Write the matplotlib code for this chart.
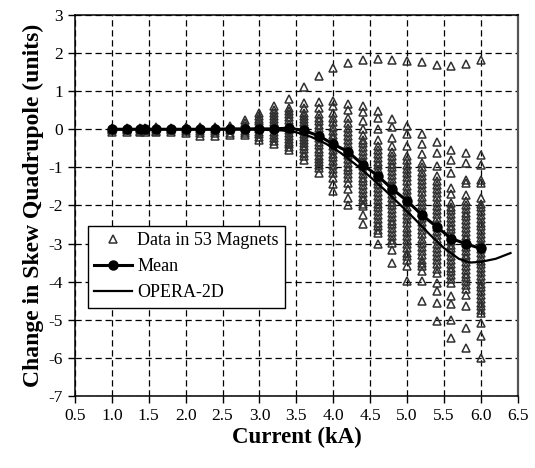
import matplotlib
matplotlib.use('Agg')
import matplotlib.pyplot as plt
from matplotlib.ticker import FormatStrFormatter, MultipleLocator

plt.rcParams['font.family'] = ['Liberation Serif', 'DejaVu Serif']
plt.rcParams['axes.unicode_minus'] = False

# currents (kA) of the measurements
currents = [1.0, 1.2, 1.38, 1.45, 1.6, 1.8, 2.0, 2.2, 2.4, 2.6, 2.8, 3.0, 3.2, 3.4,
            3.6, 3.8, 4.0, 4.2, 4.4, 4.6, 4.8, 5.0, 5.2, 5.4, 5.6, 5.8, 6.0]

mean_vals = [0.0, 0.0, 0.0, 0.0, 0.0, 0.0, 0.0, 0.0, 0.0, 0.01, 0.01, 0.01, 0.01, 0.03,
             -0.03, -0.17, -0.39, -0.59, -0.93, -1.22, -1.57, -1.88, -2.25, -2.56, -2.87, -3.01, -3.13]

# skew quad change seen in the magnets, one list per current
d10 = [0.04, 0.01, -0.02, -0.06]
d12 = [0.04, 0.0, -0.03, -0.07]
d138 = [0.03, 0.0, -0.04, -0.08]
d145 = [0.04, 0.01, -0.03, -0.07]
d16 = [0.05, 0.0, -0.04, -0.08]
d18 = [0.04, 0.0, -0.03, -0.07]
d20 = [0.05, 0.01, -0.04, -0.09]
d22 = [0.06, 0.0, -0.05, -0.1, -0.17]
d24 = [0.06, 0.01, -0.05, -0.11, -0.17]
d26 = [0.09, 0.03, -0.03, -0.09, -0.16]
d28 = [0.25, 0.16, 0.08, 0.02, -0.04, -0.1, -0.16]
d30 = [0.43, 0.35, 0.28, 0.21, 0.14, 0.07, 0.0, -0.06, -0.13, -0.2, -0.27]
d32 = [0.6, 0.5, 0.42, 0.34, 0.26, 0.18, 0.1, 0.02, -0.06, -0.14, -0.22, -0.3, -0.38]
d34 = [0.8, 0.56, 0.47, 0.39, 0.31, 0.23, 0.15, 0.07, -0.01, -0.09, -0.17, -0.25,
       -0.33, -0.4, -0.47, -0.54]
d36 = [1.11, 0.69, 0.56, 0.43, 0.35, 0.27, 0.19, 0.11, 0.03, -0.05, -0.13, -0.21,
       -0.29, -0.37, -0.45, -0.53, -0.62, -0.71, -0.8]
d38 = [1.41, 0.72, 0.55, 0.4, 0.3, 0.21, 0.12, 0.03, -0.06, -0.15, -0.24, -0.33,
       -0.42, -0.51, -0.6, -0.69, -0.78, -0.87, -0.95, -1.03, -1.15]
d40 = [1.61, 0.73, 0.6, 0.43, 0.3, 0.18, 0.06, -0.04, -0.14, -0.24, -0.34, -0.44,
       -0.54, -0.64, -0.74, -0.84, -0.94, -1.04, -1.14, -1.28, -1.45, -1.63]
d42 = [1.74, 0.65, 0.51, 0.3, 0.16, 0.02, -0.08, -0.18, -0.28, -0.38, -0.48, -0.58,
       -0.68, -0.78, -0.88, -0.98, -1.08, -1.18, -1.28, -1.4, -1.58, -1.8, -1.98]
d44 = [1.81, 0.6, 0.44, 0.21, 0.0, -0.14, -0.27, -0.37, -0.47, -0.57, -0.67, -0.77,
       -0.87, -0.97, -1.07, -1.17, -1.27, -1.37, -1.47, -1.57, -1.67, -1.77, -1.87,
       -1.95, -2.02, -2.24, -2.48]
d46 = [1.85, 0.49, 0.3, 0.0, -0.27, -0.45, -0.55, -0.65, -0.75, -0.85, -0.95, -1.05,
       -1.15, -1.25, -1.35, -1.45, -1.55, -1.65, -1.75, -1.85, -1.95, -2.05, -2.15,
       -2.25, -2.35, -2.45, -2.55, -2.64, -2.72, -3.0]
d48 = [1.83, 0.28, 0.06, -0.23, -0.45, -0.6, -0.7, -0.8, -0.9, -1.0, -1.1, -1.2, -1.3,
       -1.4, -1.5, -1.6, -1.7, -1.8, -1.9, -2.0, -2.1, -2.2, -2.3, -2.4, -2.5, -2.6,
       -2.7, -2.8, -2.9, -2.98, -3.16, -3.51]
d50 = [1.79, 0.09, -0.12, -0.45, -0.7, -0.82, -0.93, -1.04, -1.15, -1.26, -1.37, -1.48,
       -1.59, -1.7, -1.81, -1.92, -2.03, -2.14, -2.25, -2.36, -2.47, -2.58, -2.69, -2.8,
       -2.91, -3.02, -3.13, -3.24, -3.33, -3.42, -3.6, -3.99]
d52 = [1.76, -0.12, -0.38, -0.66, -0.89, -1.0, -1.11, -1.22, -1.33, -1.44, -1.55, -1.66,
       -1.77, -1.88, -1.99, -2.1, -2.21, -2.32, -2.43, -2.54, -2.65, -2.76, -2.87, -2.98,
       -3.09, -3.2, -3.31, -3.42, -3.52, -3.6, -3.73, -3.99, -4.52]
d54 = [1.68, -0.34, -0.62, -0.97, -1.24, -1.35, -1.46, -1.57, -1.68, -1.79, -1.9, -2.01,
       -2.12, -2.23, -2.34, -2.45, -2.56, -2.67, -2.78, -2.89, -3.0, -3.11, -3.22, -3.33,
       -3.44, -3.55, -3.66, -3.77, -4.03, -4.25, -4.56, -5.04]
d56 = [1.65, -0.54, -0.8, -1.15, -1.54, -1.7, -1.93, -2.03, -2.13, -2.23, -2.33, -2.43,
       -2.53, -2.63, -2.73, -2.83, -2.93, -3.03, -3.13, -3.23, -3.33, -3.43, -3.53, -3.63,
       -3.73, -3.83, -3.93, -4.03, -4.38, -4.6, -5.0, -5.48]
d58 = [1.7, -0.62, -0.89, -1.32, -1.4, -1.72, -1.89, -1.99, -2.09, -2.19, -2.29, -2.39,
       -2.49, -2.59, -2.69, -2.79, -2.89, -2.99, -3.09, -3.19, -3.29, -3.39, -3.49, -3.59,
       -3.69, -3.79, -3.89, -3.99, -4.09, -4.2, -4.34, -4.65, -5.22, -5.74]
d60 = [1.81, -0.67, -0.93, -1.32, -1.41, -1.8, -1.95, -2.05, -2.15, -2.25, -2.35, -2.45,
       -2.55, -2.65, -2.75, -2.85, -2.95, -3.05, -3.15, -3.25, -3.35, -3.45, -3.55, -3.65,
       -3.75, -3.85, -3.95, -4.05, -4.15, -4.25, -4.35, -4.45, -4.55, -4.65, -4.74, -4.82,
       -5.08, -5.44, -6.0]

magnets = [d10, d12, d138, d145, d16, d18, d20, d22, d24, d26, d28, d30, d32, d34,
           d36, d38, d40, d42, d44, d46, d48, d50, d52, d54, d56, d58, d60]

# OPERA-2D calculation
opera_x = [1.0, 2.0, 3.0, 3.3, 3.5, 3.7, 3.9, 4.1, 4.3, 4.5, 4.7, 4.9, 5.1, 5.3, 5.5,
           5.7, 5.85, 6.0, 6.2, 6.4]
opera_y = [0.0, 0.0, -0.01, -0.03, -0.08, -0.2, -0.38, -0.62, -0.92, -1.25, -1.6, -1.97,
           -2.35, -2.75, -3.12, -3.4, -3.5, -3.48, -3.4, -3.25]

fig = plt.figure(figsize=(5.35, 4.68), dpi=100)
ax = fig.add_axes([0.140, 0.154, 0.828, 0.814])

first = True
for x, vals in zip(currents, magnets):
    ax.plot([x] * len(vals), vals, ls='none', marker='^', ms=6, mfc='none',
            mec='#303030', mew=1.1, label='Data in 53 Magnets' if first else None,
            zorder=3)
    first = False

ax.plot(currents, mean_vals, 'k-', marker='o', ms=6.5, lw=2.2, label='Mean', zorder=5)
ax.plot(opera_x, opera_y, 'k-', lw=1.6, label='OPERA-2D', zorder=4)

ax.set_xlim(0.5, 6.5)
ax.set_ylim(-7, 3)
ax.xaxis.set_major_locator(MultipleLocator(0.5))
ax.xaxis.set_major_formatter(FormatStrFormatter('%.1f'))
ax.yaxis.set_major_locator(MultipleLocator(1))

ax.grid(True, ls=(0, (5, 3)), color='k', lw=0.9)
ax.set_axisbelow(True)
ax.tick_params(direction='out', length=5, width=1, labelsize=12.5, top=False, right=False)
for s in ['left', 'bottom', 'top']:
    ax.spines[s].set_linewidth(1.1)
ax.spines['right'].set_color('#555555')
ax.spines['right'].set_linewidth(1.6)

ax.set_xlabel('Current (kA)', fontsize=16.5, fontweight='bold', labelpad=2)
ax.set_ylabel('Change in Skew Quadrupole (units)', fontsize=17, fontweight='bold', labelpad=3)

leg = ax.legend(loc='upper left', bbox_to_anchor=(0.029, 0.446), fancybox=False,
                edgecolor='k', framealpha=1, borderaxespad=0, fontsize=13,
                handlelength=2.1, borderpad=0.35, labelspacing=0.5, handletextpad=0.3)
leg.get_frame().set_linewidth(1.0)

fig.savefig('out.png', dpi=100)
